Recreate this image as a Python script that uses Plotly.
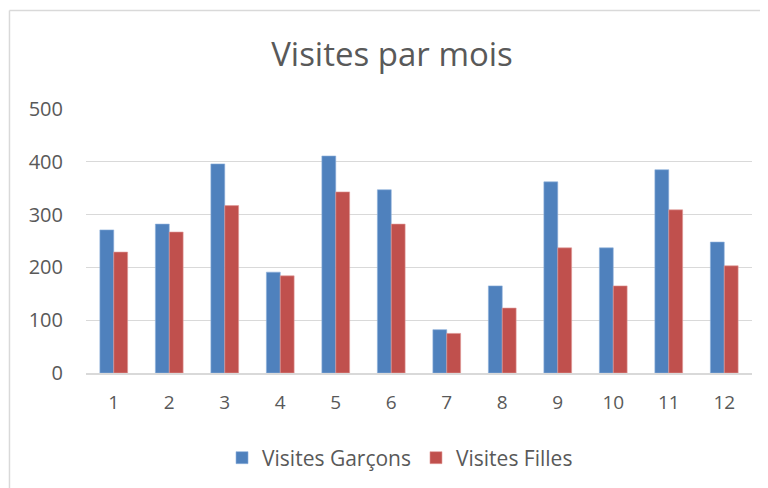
import plotly.graph_objects as go

months = ["1", "2", "3", "4", "5", "6", "7", "8", "9", "10", "11", "12"]
garcons = [271, 282, 396, 191, 411, 347, 82, 165, 362, 237, 385, 248]
filles = [229, 267, 317, 184, 343, 282, 75, 123, 237, 165, 309, 203]
yticks = [0, 100, 200, 300, 400, 500]

FONT = "'Open Sans', Lato, sans-serif"
GREY = "#595959"

fig = go.Figure()
fig.add_trace(go.Bar(x=months, y=garcons, name="Visites Garçons",
                     marker=dict(color="#4F81BD", line=dict(color="#8db0db", width=0.6))))
fig.add_trace(go.Bar(x=months, y=filles, name="Visites Filles",
                     marker=dict(color="#C0504D", line=dict(color="#e09a98", width=0.6))))

# the page body adds an 8px offset, margins compensate for it
fig.update_layout(
    width=768, height=488,
    margin=dict(l=78, r=24, t=101, b=123),
    paper_bgcolor="white", plot_bgcolor="white",
    barmode="group", bargap=0.5, bargroupgap=0,
    font=dict(family=FONT, color=GREY, size=20),
    title=dict(text="Visites par mois", x=0.5, xanchor="center", y=0.905, yanchor="middle",
               font=dict(family=FONT, size=33, color=GREY)),
    xaxis=dict(type="category", showgrid=False, showline=True, linecolor="#d9d9d9", linewidth=1.5,
               ticks="", ticklabelstandoff=11, tickfont=dict(size=19, color=GREY)),
    yaxis=dict(range=[0, 500], tickvals=yticks, showgrid=True, gridcolor="#d9d9d9", gridwidth=1.3,
               zeroline=False, showline=False, ticks="", ticklabelstandoff=22,
               tickfont=dict(size=20, color=GREY)),
    legend=dict(orientation="h", x=0.4715, xanchor="center", y=-0.322, yanchor="middle",
                font=dict(size=21, color=GREY), itemwidth=30, traceorder="normal"),
    shapes=[
        dict(type="line", xref="paper", yref="paper", x0=-0.1149, x1=1.05, y0=1.373, y1=1.373,
             line=dict(color="#d9d9d9", width=1.5)),
        dict(type="line", xref="paper", yref="paper", x0=-0.1149, x1=-0.1149, y0=1.373, y1=-0.5,
             line=dict(color="#d9d9d9", width=1.5)),
    ],
)

fig.write_html("out.html")
